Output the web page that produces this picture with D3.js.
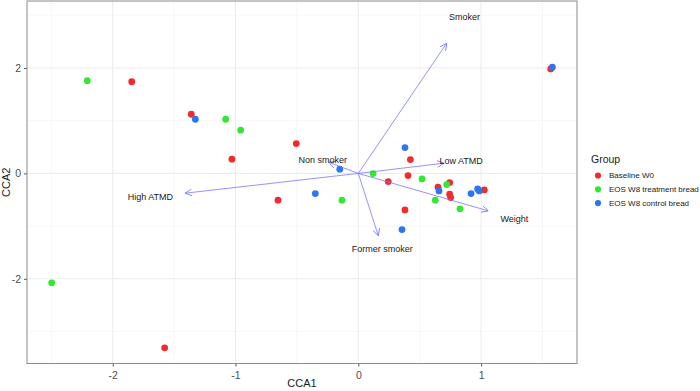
<!DOCTYPE html>
<html>
<head>
<meta charset="utf-8">
<script src="https://cdn.jsdelivr.net/npm/d3@7"></script>
<style>
  body { margin: 0; background: #fff; }
  text { font-family: "Liberation Sans", Arial, sans-serif; }
</style>
</head>
<body>
<div id="chart"></div>
<script>
// groups and colours
var groups = ["Baseline W0", "EOS W8 treatment bread", "EOS W8 control bread"];
var groupColors = ["#f42a2c", "#33e833", "#2b76f2"];

// sample scores per group (CCA1, CCA2)
var baselineX = [-1.845, -1.360, -1.029, -0.505, -0.654, -1.577, 1.567, 0.424, 0.405, 0.244, 0.649, 0.744, 0.744, 0.752, 1.026, 0.380];
var baselineY = [1.740, 1.122, 0.269, 0.565, -0.508, -3.308, 1.981, 0.262, -0.042, -0.155, -0.262, -0.174, -0.395, -0.459, -0.313, -0.692];
var treatX = [-2.207, -1.080, -0.958, -0.133, -2.497, 0.120, 0.519, 0.720, 0.627, 0.828];
var treatY = [1.759, 1.027, 0.819, -0.508, -2.076, -0.004, -0.104, -0.212, -0.508, -0.673];
var controlX = [-1.327, -0.151, -0.350, 1.580, 0.380, 0.657, 0.918, 0.972, 0.985, 0.356];
var controlY = [1.027, 0.080, -0.383, 2.013, 0.489, -0.332, -0.383, -0.294, -0.332, -1.065];

// environmental vectors
var envNames = ["Smoker", "Low ATMD", "Weight", "Former smoker", "High ATMD", "Non smoker"];
var envX = [0.720, 0.698, 1.059, 0.163, -1.411, -0.241];
var envY = [2.470, 0.193, -0.711, -1.185, -0.376, 0.212];
var labelMult = 1.2;

var xTicks = [-2, -1, 0, 1];
var yTicks = [-2, 0, 2];
var xMinor = [-2.5, -1.5, -0.5, 0.5, 1.5];
var yMinor = [-3, -1, 1, 3];

var W = 700, H = 391;
var margin = { top: 1, right: 123, bottom: 27.5, left: 27 };
var pw = W - margin.left - margin.right;
var ph = H - margin.top - margin.bottom;

var svg = d3.select("#chart").append("svg")
    .attr("width", W)
    .attr("height", H);

var x = d3.scaleLinear().domain([-2.698, 1.781]).range([0, pw]);
var y = d3.scaleLinear().domain([-3.606, 3.27]).range([ph, 0]);

var g = svg.append("g")
    .attr("transform", "translate(" + margin.left + "," + margin.top + ")");

// grid
g.selectAll(".gx-minor").data(xMinor).enter().append("line")
    .attr("x1", function (d) { return x(d); }).attr("x2", function (d) { return x(d); })
    .attr("y1", 0).attr("y2", ph)
    .attr("stroke", "#f2f2f2").attr("stroke-width", 0.6);
g.selectAll(".gy-minor").data(yMinor).enter().append("line")
    .attr("y1", function (d) { return y(d); }).attr("y2", function (d) { return y(d); })
    .attr("x1", 0).attr("x2", pw)
    .attr("stroke", "#f2f2f2").attr("stroke-width", 0.6);
g.selectAll(".gx").data(xTicks).enter().append("line")
    .attr("x1", function (d) { return x(d); }).attr("x2", function (d) { return x(d); })
    .attr("y1", 0).attr("y2", ph)
    .attr("stroke", "#ebebeb").attr("stroke-width", 1);
g.selectAll(".gy").data(yTicks).enter().append("line")
    .attr("y1", function (d) { return y(d); }).attr("y2", function (d) { return y(d); })
    .attr("x1", 0).attr("x2", pw)
    .attr("stroke", "#ebebeb").attr("stroke-width", 1);

// points
var series = [
    { xs: baselineX, ys: baselineY, color: groupColors[0] },
    { xs: treatX, ys: treatY, color: groupColors[1] },
    { xs: controlX, ys: controlY, color: groupColors[2] }
];
series.forEach(function (s) {
    var pts = s.xs.map(function (v, i) { return [v, s.ys[i]]; });
    g.append("g").selectAll("circle").data(pts).enter().append("circle")
        .attr("cx", function (d) { return x(d[0]); })
        .attr("cy", function (d) { return y(d[1]); })
        .attr("r", 3.4)
        .attr("fill", s.color);
});

// arrows
var arrowColor = "#7777ff";
svg.append("defs").append("marker")
    .attr("id", "ah")
    .attr("viewBox", "0 0 10 10")
    .attr("refX", 10).attr("refY", 5)
    .attr("markerWidth", 7).attr("markerHeight", 7)
    .attr("markerUnits", "userSpaceOnUse")
    .attr("orient", "auto")
    .append("path")
    .attr("d", "M0,0 L10,5 L0,10")
    .attr("fill", "none")
    .attr("stroke", arrowColor)
    .attr("stroke-width", 1.2);

var env = envNames.map(function (n, i) { return { name: n, x: envX[i], y: envY[i] }; });
g.append("g").selectAll("line").data(env).enter().append("line")
    .attr("x1", x(0)).attr("y1", y(0))
    .attr("x2", function (d) { return x(d.x); })
    .attr("y2", function (d) { return y(d.y); })
    .attr("stroke", arrowColor)
    .attr("stroke-width", 0.8)
    .attr("marker-end", "url(#ah)");

g.append("g").selectAll("text").data(env).enter().append("text")
    .attr("x", function (d) { return x(d.x * labelMult); })
    .attr("y", function (d) { return y(d.y * labelMult); })
    .attr("dy", "0.35em")
    .attr("text-anchor", "middle")
    .style("font-size", "9px")
    .style("fill", "#1a1a1a")
    .text(function (d) { return d.name; });

// axes
var fmt = function (d) { return String(d); };
var xAxis = d3.axisBottom(x).tickValues(xTicks).tickSize(3).tickFormat(fmt);
var yAxis = d3.axisLeft(y).tickValues(yTicks).tickSize(3).tickFormat(fmt);

var gx = g.append("g").attr("transform", "translate(0," + ph + ")").call(xAxis);
var gy = g.append("g").call(yAxis);
[gx, gy].forEach(function (a) {
    a.select(".domain").remove();
    a.selectAll(".tick line").attr("stroke", "#555");
    a.selectAll(".tick text").style("font-size", "10.5px").style("fill", "#4d4d4d")
        .style("font-family", "Liberation Sans, Arial, sans-serif");
});
gx.selectAll(".tick text").attr("dy", "0.95em");

// panel border
g.append("rect")
    .attr("x", 0).attr("y", 0).attr("width", pw).attr("height", ph)
    .attr("fill", "none").attr("stroke", "#8a8a8a").attr("stroke-width", 1);

// axis titles
svg.append("text")
    .attr("x", margin.left + pw / 2).attr("y", H - 4)
    .attr("text-anchor", "middle")
    .style("font-size", "11px").style("fill", "#1a1a1a")
    .text("CCA1");
svg.append("text")
    .attr("transform", "translate(10," + (margin.top + ph / 2) + ") rotate(-90)")
    .attr("text-anchor", "middle")
    .style("font-size", "11px").style("fill", "#1a1a1a")
    .text("CCA2");

// legend
var lg = svg.append("g").attr("transform", "translate(591,0)");
lg.append("text").attr("x", 0).attr("y", 163)
    .style("font-size", "10.5px").style("fill", "#1a1a1a").text("Group");
groups.forEach(function (name, i) {
    var yy = 175.5 + i * 13.8;
    lg.append("circle").attr("cx", 7).attr("cy", yy).attr("r", 3.1).attr("fill", groupColors[i]);
    lg.append("text").attr("x", 18).attr("y", yy).attr("dy", "0.35em")
        .style("font-size", "8px").style("fill", "#1a1a1a").text(name);
});
</script>
</body>
</html>
